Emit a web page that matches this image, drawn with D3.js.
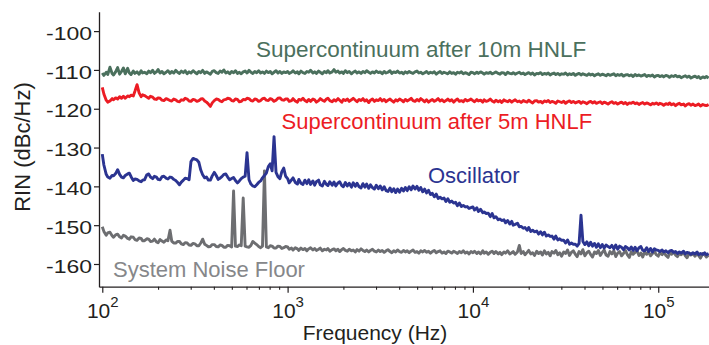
<!DOCTYPE html>
<html><head><meta charset="utf-8">
<script src="https://cdn.jsdelivr.net/npm/d3@7"></script>
<style>
body{margin:0;background:#fff;}
svg{display:block;font-family:"Liberation Sans",Arial,Helvetica,sans-serif;}
</style>
</head><body>
<svg id="chart" width="709" height="345"></svg>
<script>
// ---------------- DATA ----------------
const freqHz = [
 100,102,105,107,110,113,115,118,121,124,127,130,133,137,140,143,147,150,154,158,162,165,169,174,
 178,182,187,191,196,200,205,210,215,221,226,232,237,243,249,255,261,267,274,280,287,294,301,309,
 316,324,332,340,348,357,365,374,383,392,402,412,422,432,442,453,464,475,487,499,511,523,536,549,
 562,576,590,604,619,634,649,665,681,698,715,732,750,768,787,806,825,845,866,887,909,931,953,976,
 1000,1020,1050,1070,1100,1130,1150,1180,1210,1240,1270,1300,1330,1370,1400,1430,1470,1500,1540,1580,1620,1650,1690,1740,
 1780,1820,1870,1910,1960,2000,2050,2100,2150,2210,2260,2320,2370,2430,2490,2550,2610,2670,2740,2800,2870,2940,3010,3090,
 3160,3240,3320,3400,3480,3570,3650,3740,3830,3920,4020,4120,4220,4320,4420,4530,4640,4750,4870,4990,5110,5230,5360,5490,
 5620,5760,5900,6040,6190,6340,6490,6650,6810,6980,7150,7320,7500,7680,7870,8060,8250,8450,8660,8870,9090,9310,9530,9760,
 10000,10200,10500,10700,11000,11300,11500,11800,12100,12400,12700,13000,13300,13700,14000,14300,14700,15000,15400,15800,16200,16500,16900,17400,
 17800,18200,18700,19100,19600,20000,20500,21000,21500,22100,22600,23200,23700,24300,24900,25500,26100,26700,27400,28000,28700,29400,30100,30900,
 31600,32400,33200,34000,34800,35700,36500,37400,38300,39200,40200,41200,42200,43200,44200,45300,46400,47500,48700,49900,51100,52300,53600,54900,
 56200,57600,59000,60400,61900,63400,64900,66500,68100,69800,71500,73200,75000,76800,78700,80600,82500,84500,86600,88700,90900,93100,95300,97600,
 100000,102000,105000,107000,110000,113000,115000,118000,121000,124000,127000,130000,133000,137000,140000,143000,147000,150000,154000,158000,162000,165000,169000,174000,
 178000,182000,187000
];

const rin10m = [
 -110.8,-111.4,-110.6,-111.2,-109.3,-110.9,-111.3,-110.5,-109.4,-111.1,-110.4,-109.5,
 -111.0,-109.6,-110.8,-111.2,-110.3,-110.9,-110.5,-111.1,-110.2,-110.8,-110.6,-111.0,
 -110.3,-110.7,-110.1,-110.9,-110.5,-109.9,-110.8,-110.4,-111.0,-110.6,-110.2,-110.9,
 -110.4,-110.8,-110.1,-110.6,-110.9,-110.3,-110.7,-110.2,-111.0,-110.5,-110.8,-110.2,
 -110.6,-111.0,-110.4,-110.7,-110.1,-110.9,-110.5,-110.8,-111.1,-110.4,-110.2,-110.7,
 -110.9,-110.3,-110.6,-110.0,-110.8,-110.5,-111.0,-110.4,-110.7,-110.2,-110.9,-110.6,
 -111.0,-110.5,-110.3,-110.8,-110.1,-110.6,-110.9,-110.4,-110.7,-110.2,-110.8,-110.5,
 -110.9,-110.3,-110.7,-110.4,-111.0,-110.6,-110.2,-110.8,-110.4,-110.9,-110.5,-110.7,
 -110.4,-110.9,-110.6,-110.2,-110.8,-110.5,-111.0,-110.3,-110.7,-110.9,-110.4,-110.6,
 -110.1,-110.8,-110.5,-110.9,-110.3,-110.6,-111.0,-110.4,-110.7,-110.2,-110.8,-110.5,
 -109.9,-110.6,-110.3,-110.8,-110.5,-110.9,-110.2,-110.7,-110.4,-111.0,-110.6,-110.3,
 -110.8,-110.5,-110.9,-110.4,-110.7,-110.2,-110.6,-110.9,-110.5,-110.8,-110.3,-110.7,
 -110.5,-111.0,-110.4,-110.8,-110.6,-110.2,-110.9,-110.5,-110.7,-110.3,-110.8,-110.6,
 -111.0,-110.5,-110.8,-110.4,-110.7,-110.9,-110.5,-110.3,-110.8,-110.6,-111.0,-110.7,
 -110.4,-110.9,-110.6,-110.8,-110.5,-111.1,-110.7,-110.4,-110.9,-110.6,-110.8,-111.0,
 -110.5,-110.9,-110.7,-111.1,-110.6,-110.8,-110.5,-111.0,-110.7,-110.9,-111.2,-110.6,
 -110.7,-111.0,-110.6,-110.9,-110.5,-110.8,-111.1,-110.7,-110.9,-110.6,-111.0,-110.8,
 -110.5,-110.9,-111.1,-110.7,-110.8,-111.2,-110.6,-110.9,-111.0,-110.7,-111.1,-110.8,
 -110.6,-111.0,-110.8,-111.2,-110.9,-110.7,-111.1,-110.8,-111.3,-110.9,-111.0,-110.7,
 -111.2,-110.9,-111.1,-110.8,-111.3,-111.0,-110.8,-111.2,-110.9,-111.3,-111.0,-111.1,
 -110.8,-111.3,-111.0,-111.2,-110.9,-111.4,-111.1,-110.9,-111.3,-111.0,-111.2,-111.4,
 -111.0,-111.3,-111.1,-111.5,-111.2,-111.0,-111.4,-111.1,-111.3,-111.5,-111.1,-111.4,
 -111.2,-111.0,-111.5,-111.2,-111.4,-111.1,-111.6,-111.3,-111.2,-111.5,-111.3,-111.7,
 -111.2,-111.5,-111.3,-111.6,-111.4,-111.2,-111.7,-111.4,-111.6,-111.3,-111.8,-111.5,
 -111.4,-111.7,-111.5,-111.8,-111.4,-111.6,-111.9,-111.5,-111.7,-111.4,-111.8,-111.6,
 -112.0,-111.7,-111.5,-111.9,-111.6,-112.1,-111.8,-111.6,-112.0,-111.7,-112.2,-111.8,
 -112.0,-111.7,-112.1
];

const rin5m = [
 -114.5,-116.2,-117.8,-118.3,-118.0,-117.4,-117.7,-117.2,-117.5,-116.9,-117.3,-116.8,
 -117.3,-116.7,-116.9,-116.5,-116.7,-115.5,-113.8,-115.9,-116.9,-116.4,-116.6,-117.0,
 -117.3,-116.8,-117.0,-117.5,-117.6,-117.2,-117.3,-117.8,-117.9,-117.4,-117.6,-117.9,
 -118.0,-117.5,-117.7,-118.1,-118.2,-117.7,-117.8,-117.3,-117.5,-118.0,-118.1,-117.6,
 -117.7,-118.1,-117.9,-117.5,-117.4,-118.0,-118.3,-118.8,-119.4,-118.5,-117.9,-117.5,
 -117.6,-118.0,-118.2,-117.7,-117.6,-117.3,-117.4,-117.9,-118.0,-117.5,-117.6,-118.2,
 -118.1,-117.6,-117.7,-117.3,-117.4,-117.9,-118.0,-117.5,-117.6,-118.1,-117.9,-117.4,
 -117.3,-117.8,-117.9,-117.4,-117.6,-118.1,-117.8,-117.3,-117.2,-117.7,-117.8,-117.5,
 -117.5,-118.1,-117.9,-117.4,-118.0,-118.3,-117.6,-117.8,-117.3,-117.9,-118.2,-117.6,
 -118.1,-117.5,-117.7,-118.3,-117.9,-117.4,-117.8,-118.1,-117.5,-117.3,-117.9,-118.2,
 -117.7,-118.0,-117.4,-117.8,-118.3,-117.6,-117.9,-117.5,-118.1,-117.7,-117.3,-117.8,
 -118.2,-117.6,-117.9,-117.4,-118.0,-117.7,-118.4,-117.8,-117.5,-118.1,-117.7,-117.9,
 -117.4,-118.0,-117.6,-118.2,-117.8,-117.5,-117.9,-118.3,-117.7,-118.0,-117.5,-117.8,
 -118.2,-117.6,-118.0,-117.7,-117.3,-117.9,-118.1,-117.6,-118.0,-117.4,-117.8,-118.2,
 -117.7,-118.3,-117.9,-117.6,-118.1,-117.8,-117.4,-118.0,-117.7,-118.2,-117.9,-117.5,
 -118.0,-117.7,-118.3,-117.8,-117.5,-118.1,-117.9,-118.2,-117.6,-118.0,-117.8,-117.5,
 -117.9,-118.2,-117.6,-118.0,-117.8,-118.3,-117.7,-118.1,-117.9,-117.5,-118.0,-118.3,
 -117.8,-118.2,-117.9,-118.4,-117.7,-118.0,-118.2,-117.8,-118.3,-118.0,-117.7,-118.2,
 -118.0,-118.4,-117.9,-118.1,-118.3,-117.8,-118.2,-118.5,-118.0,-117.9,-118.3,-118.1,
 -118.5,-118.0,-118.2,-117.9,-118.4,-118.1,-118.3,-118.6,-118.0,-118.2,-118.4,-118.1,
 -118.6,-118.2,-118.0,-118.4,-118.1,-118.5,-118.3,-118.1,-118.6,-118.2,-118.4,-118.7,
 -118.3,-118.1,-118.5,-118.2,-118.6,-118.4,-118.2,-118.7,-118.3,-118.5,-118.8,-118.4,
 -118.2,-118.6,-118.4,-118.8,-118.5,-118.3,-118.7,-118.4,-118.9,-118.5,-118.6,-118.3,
 -118.7,-118.5,-118.9,-118.6,-118.4,-118.8,-118.5,-118.7,-119.0,-118.6,-118.8,-118.5,
 -118.9,-118.6,-118.8,-119.1,-118.7,-118.9,-118.5,-119.0,-118.7,-119.2,-118.8,-118.6,
 -119.0,-118.8,-119.3,-118.9,-118.7,-119.1,-118.8,-119.2,-119.0,-118.8,-119.3,-118.9,
 -119.1,-119.2,-118.9
];

const rinOsc = [
 -131.7,-134.5,-136.9,-137.6,-137.9,-137.2,-137.3,-136.7,-135.7,-136.9,-137.6,-137.8,
 -137.2,-136.8,-136.6,-137.5,-138.5,-138.1,-138.2,-138.6,-138.8,-138.4,-138.3,-137.0,
 -136.8,-137.6,-138.0,-137.4,-137.6,-138.2,-138.3,-137.5,-137.4,-137.9,-138.1,-137.6,
 -137.7,-138.2,-138.5,-139.0,-139.6,-138.9,-138.4,-137.9,-138.0,-138.3,-133.6,-132.8,
 -133.0,-133.2,-133.8,-135.8,-137.0,-137.8,-137.6,-138.4,-138.4,-137.3,-136.4,-137.2,
 -138.2,-137.9,-137.5,-136.9,-136.8,-137.6,-138.3,-138.0,-137.7,-138.5,-139.1,-138.6,
 -138.0,-137.6,-137.4,-131.3,-138.3,-139.4,-139.9,-140.1,-139.6,-139.0,-138.6,-137.8,
 -137.2,-136.6,-134.9,-134.2,-136.0,-127.2,-136.4,-137.5,-138.0,-136.2,-135.3,-137.4,
 -138.0,-139.1,-138.3,-137.8,-139.0,-139.4,-138.2,-139.2,-139.5,-138.4,-139.3,-138.3,
 -139.5,-138.6,-139.7,-138.8,-138.4,-139.6,-139.9,-138.7,-139.5,-139.8,-138.8,-139.7,
 -138.9,-139.9,-139.1,-138.8,-139.8,-140.1,-139.0,-139.9,-139.2,-140.2,-139.1,-140.0,
 -139.2,-140.1,-140.4,-139.3,-140.2,-139.4,-140.5,-139.6,-140.3,-140.7,-139.7,-140.6,
 -139.9,-140.9,-140.1,-141.1,-141.3,-140.4,-141.4,-140.6,-141.6,-140.7,-141.5,-140.5,
 -141.2,-140.3,-141.1,-140.1,-140.9,-139.9,-140.7,-140.0,-141.0,-140.3,-141.4,-140.7,
 -141.7,-141.0,-142.1,-141.8,-142.7,-142.0,-143.1,-142.8,-143.2,-143.0,-143.9,-143.2,
 -144.1,-143.8,-144.3,-144.1,-145.0,-144.3,-145.2,-144.9,-145.3,-145.2,-145.7,-145.5,
 -145.3,-146.1,-145.5,-146.5,-145.9,-146.8,-146.6,-147.0,-146.9,-147.8,-147.0,-148.1,
 -147.8,-148.6,-148.4,-148.8,-148.6,-149.4,-148.8,-149.7,-149.0,-150.0,-149.8,-149.5,
 -150.4,-150.3,-150.8,-150.6,-151.3,-150.6,-151.6,-151.3,-151.7,-151.5,-152.3,-151.7,
 -152.5,-151.8,-152.8,-152.5,-152.9,-152.8,-153.6,-152.8,-153.8,-153.5,-153.9,-153.9,
 -154.6,-153.8,-154.9,-154.6,-154.9,-154.9,-155.4,-154.7,-147.4,-154.2,-155.0,-154.3,
 -155.3,-154.4,-155.4,-154.7,-155.7,-154.8,-155.8,-155.0,-155.9,-155.1,-155.5,-155.8,
 -155.2,-156.1,-155.1,-156.2,-155.4,-155.7,-156.3,-155.5,-155.8,-156.4,-155.6,-156.5,
 -155.7,-156.6,-155.8,-155.5,-156.5,-156.6,-155.8,-156.8,-156.0,-156.9,-156.1,-156.4,
 -156.5,-156.8,-156.4,-156.9,-156.6,-157.1,-156.7,-156.5,-157.0,-156.8,-157.3,-156.9,
 -157.2,-156.7,-157.4,-157.0,-157.2,-157.5,-157.1,-157.4,-156.9,-157.6,-157.3,-157.5,
 -157.1,-157.6,-157.3
];

const rinFloor = [
 -150.4,-151.6,-152.6,-152.0,-151.8,-152.7,-153.1,-152.5,-152.3,-153.0,-153.3,-152.6,
 -152.8,-153.4,-153.6,-153.0,-153.1,-153.7,-153.9,-153.3,-153.4,-154.0,-154.0,-153.5,
 -153.6,-154.2,-154.1,-153.6,-154.3,-154.5,-153.7,-154.1,-154.4,-153.8,-154.0,-151.3,
 -154.1,-154.6,-154.6,-154.2,-154.2,-154.8,-155.0,-154.5,-154.6,-155.1,-155.2,-154.7,
 -154.8,-155.3,-155.3,-154.6,-153.6,-154.9,-155.2,-155.6,-155.5,-155.0,-155.0,-155.5,
 -155.6,-155.1,-155.2,-155.7,-155.7,-155.2,-155.3,-155.6,-141.2,-155.4,-155.5,-155.1,
 -155.3,-143.0,-155.4,-155.6,-155.7,-155.2,-154.2,-154.6,-155.0,-155.5,-155.8,-155.4,
 -136.0,-155.6,-155.8,-155.3,-155.4,-155.9,-155.9,-155.4,-155.5,-156.0,-155.8,-155.5,
 -155.6,-156.2,-155.9,-156.4,-155.8,-156.1,-156.5,-155.9,-156.3,-156.0,-156.6,-156.1,
 -155.8,-156.4,-156.0,-156.5,-156.2,-155.9,-156.6,-156.2,-156.4,-156.0,-156.7,-156.3,
 -156.1,-156.6,-156.2,-156.8,-156.3,-156.0,-156.5,-156.7,-156.2,-156.6,-156.4,-156.9,
 -156.3,-156.7,-156.1,-156.5,-156.8,-156.4,-156.9,-156.5,-156.2,-156.7,-156.9,-156.4,
 -156.8,-156.5,-157.0,-156.6,-156.3,-156.8,-157.1,-156.6,-156.9,-156.4,-156.8,-157.0,
 -156.5,-156.9,-156.6,-157.1,-156.7,-156.4,-157.0,-156.8,-157.2,-156.6,-156.9,-156.5,
 -157.0,-156.7,-157.2,-156.8,-156.5,-157.1,-156.8,-156.6,-157.2,-156.9,-157.3,-156.7,
 -156.9,-157.2,-156.7,-157.0,-157.3,-156.8,-157.1,-156.6,-157.2,-156.9,-157.4,-156.8,
 -157.1,-156.7,-157.3,-156.9,-157.4,-156.6,-157.2,-156.9,-157.5,-157.0,-156.7,-157.3,
 -156.8,-157.4,-157.0,-157.6,-156.9,-157.2,-156.6,-157.4,-157.1,-156.8,-157.5,-156.9,
 -155.2,-157.3,-156.8,-157.6,-157.0,-156.5,-157.4,-157.1,-157.8,-156.7,-157.3,-156.9,
 -157.7,-156.6,-157.4,-157.0,-157.9,-156.8,-157.2,-156.5,-157.6,-157.1,-158.0,-156.9,
 -157.3,-156.4,-157.8,-157.0,-156.6,-157.5,-158.1,-156.8,-157.4,-156.3,-157.9,-157.1,
 -156.7,-157.6,-158.2,-156.9,-157.3,-156.5,-157.8,-157.0,-156.4,-157.7,-158.0,-156.8,
 -157.4,-156.6,-158.1,-157.2,-156.8,-157.9,-157.3,-156.5,-157.6,-158.3,-156.9,-157.5,
 -157.0,-156.6,-157.8,-157.2,-158.2,-156.8,-157.5,-156.9,-157.9,-157.3,-156.7,-157.6,
 -158.0,-157.1,-157.6,-156.9,-157.8,-158.3,-157.2,-157.5,-156.9,-157.7,-158.1,-157.3,
 -157.6,-157.0,-157.9,-158.4,-157.2,-157.7,-157.4,-158.0,-157.1,-157.8,-158.5,-157.3,
 -157.6,-158.2,-157.7
];

const yTickValues = [-100,-110,-120,-130,-140,-150,-160];
const xMajorTicks = [100,1000,10000,100000];
const xMajorExponents = ["2","3","4","5"];
const seriesLabels = ["Supercontinuum after 10m HNLF","Supercontinuum after 5m HNLF","Oscillator","System Noise Floor"];
const xTitle = "Frequency (Hz)";
const yTitle = "RIN (dBc/Hz)";

// ---------------- STYLE / LAYOUT ----------------
const colors = {
  green: "#4b705d",
  red: "#ec1c24",
  blue: "#2b3491",
  gray: "#6d6e71",
  grayText: "#86878a",
  ink: "#231f20"
};

const svg = d3.select("#chart");

const x = d3.scaleLog().domain([96, 190000]).range([99, 709.9]);
const y = d3.scaleLinear().domain([-165.85, -95]).range([286.7, 11.7]);

const line = d3.line()
  .x(d => x(d[0]))
  .y(d => y(d[1]));

function pairs(vals){ return freqHz.map((f,i)=>[f, vals[i]]); }

const series = [
  {vals: rin10m, color: colors.green},
  {vals: rin5m, color: colors.red},
  {vals: rinFloor, color: colors.gray},
  {vals: rinOsc, color: colors.blue}
];

const plot = svg.append("g");
series.forEach(s => {
  plot.append("path")
    .datum(pairs(s.vals))
    .attr("d", line)
    .attr("fill","none")
    .attr("stroke", s.color)
    .attr("stroke-width", 2.9)
    .attr("stroke-linejoin","round");
});

// ---------------- AXES ----------------
const yAxis = d3.axisLeft(y)
  .tickValues(yTickValues)
  .tickSize(5)
  .tickSizeOuter(0)
  .tickPadding(2)
  .tickFormat(d => String(d));
const gy = svg.append("g").attr("transform","translate(99,0)").call(yAxis);
gy.select(".domain").attr("stroke", colors.ink).attr("stroke-width",1.3);
gy.selectAll(".tick line").attr("stroke", colors.ink).attr("stroke-width",1.2);
gy.selectAll(".tick text")
  .attr("fill", colors.ink)
  .attr("font-size","19px")
  .attr("font-family",'"Liberation Sans",Arial,sans-serif')
  .attr("dy","0.43em")
  .attr("textLength",46)
  .attr("lengthAdjust","spacingAndGlyphs");

const minorTicks = x.ticks().filter(v => xMajorTicks.indexOf(v) < 0);
const xAxisMinor = d3.axisBottom(x).tickValues(minorTicks).tickSize(3).tickSizeOuter(0).tickFormat("");
const gxm = svg.append("g").attr("transform","translate(0,286.7)").call(xAxisMinor);
gxm.select(".domain").attr("stroke", colors.ink).attr("stroke-width",1.3);
gxm.selectAll(".tick line").attr("stroke", colors.ink).attr("stroke-width",1.1);

const xAxisMajor = d3.axisBottom(x).tickValues(xMajorTicks).tickSize(6).tickSizeOuter(0).tickFormat("");
const gx = svg.append("g").attr("transform","translate(0,286.7)").call(xAxisMajor);
gx.select(".domain").remove();
gx.selectAll(".tick line").attr("stroke", colors.ink).attr("stroke-width",1.2);
gx.selectAll(".tick").each(function(d,i){
  const t = d3.select(this).append("text")
    .attr("x",0).attr("y",31.6)
    .attr("text-anchor","middle")
    .attr("fill", colors.ink)
    .attr("font-size","21px");
  t.append("tspan").text("10");
  t.append("tspan").attr("font-size","15px").attr("dy","-11").text(xMajorExponents[i]);
});

svg.append("text")
  .attr("x", 375).attr("y", 340)
  .attr("text-anchor","middle")
  .attr("fill", colors.ink)
  .attr("font-size","21px")
  .text(xTitle);

svg.append("text")
  .attr("transform","translate(30,147) rotate(-90)")
  .attr("text-anchor","middle")
  .attr("fill", colors.ink)
  .attr("font-size","22px")
  .text(yTitle);

const labelSpecs = [
  {text: seriesLabels[0], x: 256, y: 57, size: 22.5, color: colors.green},
  {text: seriesLabels[1], x: 281.5, y: 128.5, size: 22, color: colors.red},
  {text: seriesLabels[2], x: 428, y: 183, size: 22, color: colors.blue},
  {text: seriesLabels[3], x: 113, y: 276.5, size: 22, color: colors.grayText}
];
labelSpecs.forEach(l => {
  svg.append("text")
    .attr("x", l.x).attr("y", l.y)
    .attr("fill", l.color)
    .attr("font-size", l.size + "px")
    .text(l.text);
});
</script>
</body></html>
